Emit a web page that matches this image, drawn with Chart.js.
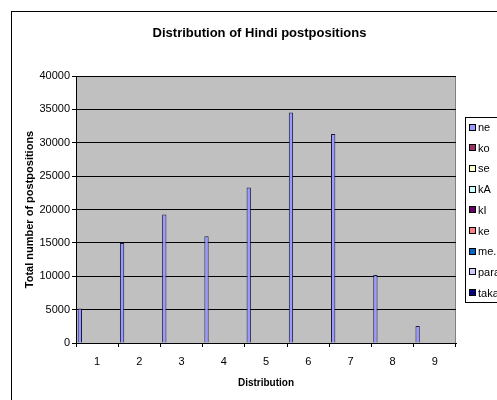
<!DOCTYPE html>
<html>
<head>
<meta charset="utf-8">
<script src="https://cdn.jsdelivr.net/npm/chart.js@4.4.0/dist/chart.umd.min.js"></script>
<style>
html, body { margin: 0; padding: 0; background: #fff; overflow: hidden; }
</style>
</head>
<body>
<canvas id="chart" width="497" height="400"></canvas>
<script>
// values
const categories = ['1', '2', '3', '4', '5', '6', '7', '8', '9'];
const seriesNames = ['ne', 'ko', 'se', 'kA', 'kI', 'ke', 'me.n', 'para', 'taka'];
const seriesColors = ['#9999ff', '#993366', '#ffffcc', '#ccffff', '#660066', '#ff8080', '#0066cc', '#ccccff', '#000080'];
const neCounts = [5150, 15000, 19250, 16000, 23300, 34550, 31300, 10200, 2550];
const emptyCounts = [null, null, null, null, null, null, null, null, null];
const yMax = 40000;
const yStep = 5000;

const chartTitle = 'Distribution of Hindi postpositions';
const xTitle = 'Distribution';
const yTitle = 'Total number of postpositions';

const fontFamily = '"Liberation Sans", Arial, sans-serif';
Chart.defaults.font.family = fontFamily;
Chart.defaults.color = '#000';

const datasets = seriesNames.map((name, i) => ({
    label: name,
    data: i === 0 ? neCounts : emptyCounts,
    backgroundColor: seriesColors[i],
    borderColor: '#1a1a40',
    borderWidth: 1,
    categoryPercentage: 0.92,
    barPercentage: 1.0
}));

// frame, grey plot area, title and legend like the old spreadsheet chart
const sheetLook = {
    id: 'sheetLook',
    beforeDraw(chart) {
        const ctx = chart.ctx;
        const a = chart.chartArea;
        ctx.save();
        ctx.fillStyle = '#fff';
        ctx.fillRect(0, 0, chart.width, chart.height);
        ctx.strokeStyle = '#000';
        ctx.lineWidth = 1;
        ctx.strokeRect(11.5, 11.5, 700, 700);
        ctx.fillStyle = '#c0c0c0';
        ctx.fillRect(a.left, a.top, a.right - a.left, a.bottom - a.top);
        ctx.strokeStyle = '#808080';
        ctx.beginPath();
        ctx.moveTo(a.left, a.top + 0.5);
        ctx.lineTo(a.right - 0.5, a.top + 0.5);
        ctx.lineTo(a.right - 0.5, a.bottom);
        ctx.stroke();
        ctx.restore();
    },
    afterDraw(chart) {
        const ctx = chart.ctx;
        ctx.save();
        ctx.fillStyle = '#000';
        ctx.font = 'bold 13px ' + fontFamily;
        ctx.textAlign = 'center';
        ctx.textBaseline = 'middle';
        ctx.fillText(chartTitle, 259.5, 33);

        // legend box
        ctx.strokeStyle = '#000';
        ctx.lineWidth = 1;
        ctx.strokeRect(465.5, 117.5, 100, 185);
        ctx.font = '11px ' + fontFamily;
        ctx.textAlign = 'left';
        chart.data.datasets.forEach((ds, i) => {
            const y = 127.5 + i * 20.7;
            ctx.fillStyle = ds.backgroundColor;
            ctx.fillRect(469.5, Math.round(y) - 3.5, 6, 6);
            ctx.strokeStyle = '#000';
            ctx.strokeRect(469.5, Math.round(y) - 3.5, 6, 6);
            ctx.fillStyle = '#000';
            ctx.fillText(ds.label, 478, y + 0.5);
        });
        ctx.restore();
    }
};

new Chart(document.getElementById('chart'), {
    type: 'bar',
    data: {
        labels: categories,
        datasets: datasets
    },
    options: {
        responsive: false,
        animation: false,
        layout: {
            padding: { top: 76, right: 41, bottom: 6, left: 0 }
        },
        scales: {
            x: {
                grid: {
                    offset: true,
                    drawOnChartArea: false,
                    drawTicks: true,
                    tickLength: 4,
                    color: '#000'
                },
                border: { color: '#000' },
                ticks: {
                    padding: 8,
                    font: { size: 11 },
                    color: '#000'
                },
                title: {
                    display: true,
                    text: xTitle,
                    font: { size: 10, weight: 'bold' },
                    padding: { top: 4, bottom: 5 },
                    color: '#000'
                },
                afterFit(scale) { scale.height = 51; }
            },
            y: {
                min: 0,
                max: yMax,
                grid: {
                    color: '#000',
                    drawTicks: true,
                    tickLength: 4
                },
                border: { color: '#000' },
                ticks: {
                    stepSize: yStep,
                    padding: 2,
                    font: { size: 11 },
                    color: '#000',
                    callback: (value) => String(value)
                },
                title: {
                    display: true,
                    text: yTitle,
                    font: { size: 11, weight: 'bold' },
                    padding: { top: 23, bottom: 0 },
                    color: '#000'
                },
                afterFit(scale) { scale.width = 76; }
            }
        },
        plugins: {
            legend: { display: false },
            title: { display: false },
            tooltip: { enabled: false }
        }
    },
    plugins: [sheetLook]
});
</script>
</body>
</html>
